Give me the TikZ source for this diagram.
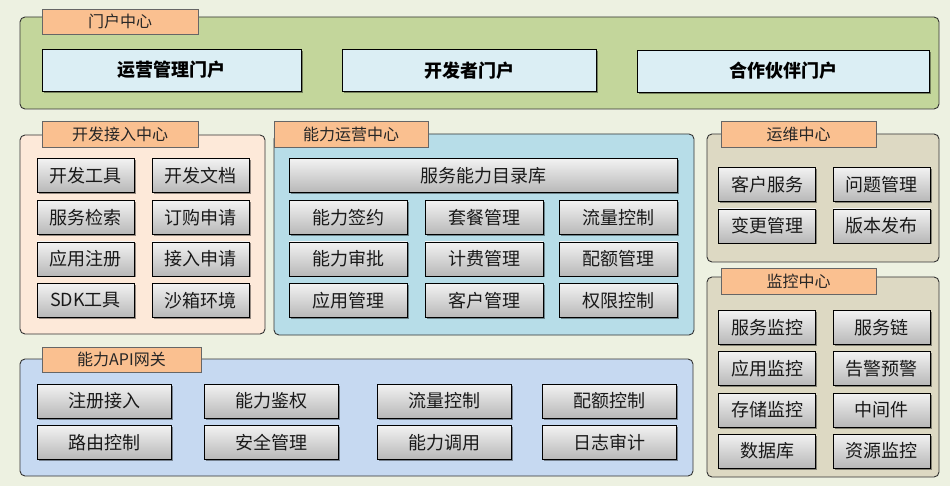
\documentclass[tikz,border=0pt]{standalone}
\usepackage{fontspec}
\setmainfont{Noto Sans CJK SC}
\usetikzlibrary{shadows}
\definecolor{bgc}{HTML}{EDF1E1}
\definecolor{topc}{HTML}{C3D69B}
\definecolor{tabc}{HTML}{FAC090}
\definecolor{portc}{HTML}{DBEEF4}
\definecolor{leftc}{HTML}{FDE9D9}
\definecolor{midc}{HTML}{B7DDE8}
\definecolor{rightc}{HTML}{DDD9C3}
\definecolor{botc}{HTML}{C6D9F1}
\tikzset{
  panel/.style={draw=black!80, line width=0.9pt, rounded corners=5pt, inner sep=0pt},
  tabbox/.style={draw=black!60, line width=0.8pt, fill=tabc, inner sep=0pt, font=\fontsize{16}{18}\selectfont, text=black!85},
  gbox/.style={draw=black, line width=0.8pt, top color=white!95!black, bottom color=black!28, inner sep=0pt,
     font=\fontsize{18}{20}\selectfont, text=black!90, minimum height=34pt,
     drop shadow={shadow xshift=1.5pt, shadow yshift=-1.5pt, fill=black, opacity=0.4}},
  pbox/.style={draw=black, line width=0.9pt, fill=portc, inner sep=0pt, minimum height=42pt,
     font=\fontsize{18}{20}\selectfont\bfseries, text=black,
     drop shadow={shadow xshift=2pt, shadow yshift=-2pt, fill=black, opacity=0.4}}
}
\begin{document}
\begin{tikzpicture}[x=1pt,y=-1pt]
\useasboundingbox (0,0) rectangle (950,486);
\fill[bgc] (0,0) rectangle (950,486);
% panels
\node[panel, fill=topc, minimum width=919pt, minimum height=92pt] (ptop) at (479.5,63) {};
\node[panel, fill=leftc, minimum width=245pt, minimum height=199pt] (pleft) at (142.5,234.5) {};
\node[panel, fill=midc, minimum width=420pt, minimum height=201pt] (pmid) at (484,234.5) {};
\node[panel, fill=rightc, minimum width=232pt, minimum height=128pt] (pops) at (823,198) {};
\node[panel, fill=rightc, minimum width=232pt, minimum height=200pt] (pmon) at (823,377) {};
\node[panel, fill=botc, minimum width=673pt, minimum height=117pt] (pbot) at (356.5,417.5) {};
% tabs
\node[tabbox, minimum width=156pt, minimum height=25pt] (ttop) at (120,21.5) {门户中心};
\node[tabbox, minimum width=156pt, minimum height=26pt] (tleft) at (120,134) {开发接入中心};
\node[tabbox, minimum width=154pt, minimum height=26pt] (tmid) at (351,134) {能力运营中心};
\node[tabbox, minimum width=155pt, minimum height=26pt] (tops) at (798.5,134) {运维中心};
\node[tabbox, minimum width=155pt, minimum height=26pt] (tmon) at (798.5,281) {监控中心};
\node[tabbox, minimum width=159pt, minimum height=25pt] (tbot) at (121.5,359.5) {能力API网关};
% portals
\node[pbox, minimum width=259pt] (p1) at (171.5,70) {运营管理门户};
\node[pbox, minimum width=254pt] (p2) at (469,70.5) {开发者门户};
\node[pbox, minimum width=292pt] (p3) at (783,71) {合作伙伴门户};
% left boxes
\foreach \t/\n/\x/\y in {开发工具/l11/85.5/175.5, 开发文档/l12/200.5/175.5,
  服务检索/l21/85.5/217.5, 订购申请/l22/200.5/217.5,
  应用注册/l31/85.5/259, 接入申请/l32/200.5/259,
  SDK工具/l41/85.5/300.5, 沙箱环境/l42/200.5/300.5}
  \node[gbox, minimum width=97pt] (\n) at (\x,\y) {\t};
% middle boxes
\node[gbox, minimum width=388pt] (cat) at (483,175.5) {服务能力目录库};
\foreach \t/\n/\x/\y in {能力签约/m11/348/217.5, 套餐管理/m12/484/217.5, 流量控制/m13/618.5/217.5,
  能力审批/m21/348/259, 计费管理/m22/484/259, 配额管理/m23/618.5/259,
  应用管理/m31/348/300.5, 客户管理/m32/484/300.5, 权限控制/m33/618.5/300.5}
  \node[gbox, minimum width=118pt] (\n) at (\x,\y) {\t};
% ops boxes
\foreach \t/\n/\x/\y in {客户服务/o11/767/184.5, 问题管理/o12/881.5/184.5,
  变更管理/o21/767/226, 版本发布/o22/881.5/226}
  \node[gbox, minimum width=97pt] (\n) at (\x,\y) {\t};
% monitor boxes
\foreach \t/\n/\x/\y in {服务监控/k11/767/327.5, 服务链/k12/881.5/327.5,
  应用监控/k21/767/368.5, 告警预警/k22/881.5/368.5,
  存储监控/k31/767/410, 中间件/k32/881.5/410,
  数据库/k41/767/451, 资源监控/k42/881.5/451}
  \node[gbox, minimum width=97pt] (\n) at (\x,\y) {\t};
% gateway boxes
\foreach \t/\n/\x/\y in {注册接入/g11/104/401, 能力鉴权/g12/271/401, 流量控制/g13/444/401, 配额控制/g14/609.5/401,
  路由控制/g21/104/442.5, 安全管理/g22/271/442.5, 能力调用/g23/444/442.5, 日志审计/g24/609.5/442.5}
  \node[gbox, minimum width=134pt] (\n) at (\x,\y) {\t};
\end{tikzpicture}
\end{document}
